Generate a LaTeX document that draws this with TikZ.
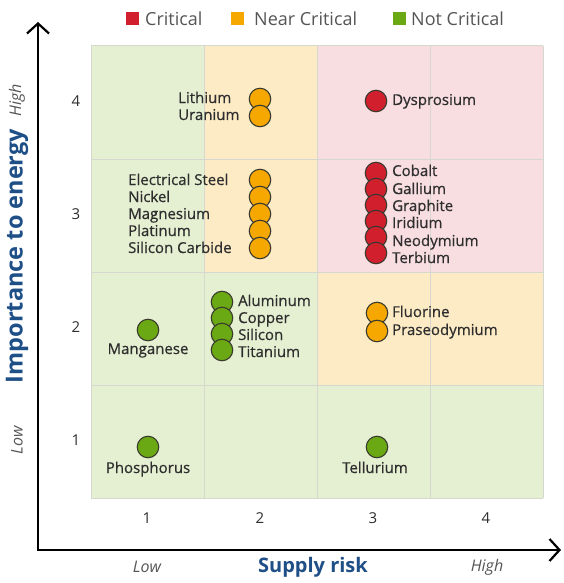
\documentclass[tikz,border=0pt]{standalone}
\usepackage{fontspec}
\setmainfont{Open Sans}
\newfontfamily\elemfont{Open Sans}[FakeBold=0.6]
\usetikzlibrary{arrows.meta}

\definecolor{critred}{HTML}{D21F2E}
\definecolor{nearorange}{HTML}{F6A800}
\definecolor{notgreen}{HTML}{6AA814}
\definecolor{cellgreen}{HTML}{E5F0D2}
\definecolor{cellorange}{HTML}{FDEBC5}
\definecolor{cellpink}{HTML}{F8DEE1}
\definecolor{gridgray}{HTML}{D6D8D0}
\definecolor{dotline}{HTML}{3A3A2E}
\definecolor{axisblue}{HTML}{1F4F87}
\definecolor{labelgray}{HTML}{2E2E2E}
\definecolor{softgray}{HTML}{555555}

\begin{document}
\begin{tikzpicture}[x=1pt,y=-1pt,
	dot/.style={circle, draw=dotline, line width=1.1pt, minimum size=21.5pt, inner sep=0pt},
	elem/.style={text=labelgray, font=\elemfont\fontsize{15}{17}\selectfont, inner sep=0pt, text height=11pt, text depth=3pt},
	tick/.style={text=labelgray, font=\fontsize{15}{17}\selectfont},
	hilo/.style={text=softgray, font=\fontsize{16}{18}\selectfont\itshape},
	axlabel/.style={text=axisblue, font=\fontsize{20}{22}\selectfont\bfseries},
	keybox/.style={minimum size=13pt, inner sep=0pt},
	keytext/.style={anchor=west, inner sep=0pt, text=softgray, font=\fontsize{18}{20}\selectfont}]
	
	\useasboundingbox (0,0) rectangle (564,583);
	
	% cells
	\fill[cellgreen] (91,46) rectangle (543,498);
	\fill[cellorange] (204,46) rectangle (317,272);
	\fill[cellpink] (317,46) rectangle (543,272);
	\fill[cellorange] (317,272) rectangle (543,385);
	\foreach \g in {91,204,317,430,543} {
		\draw[gridgray, line width=1pt] (\g,46) -- (\g,498);
	}
	\foreach \g in {46,159,272,385,498} {
		\draw[gridgray, line width=1pt] (91,\g) -- (543,\g);
	}
	
	% axes
	\coordinate (ytop) at (38,22);
	\coordinate (origin) at (38,550);
	\coordinate (xend) at (561,550);
	\draw[line width=2.2pt, line join=miter, {Straight Barb[length=10pt,width=22pt]}-{Straight Barb[length=10pt,width=22pt]}] (ytop) -- (origin) -- (xend);
	
	% legend
	\node[keybox, fill=critred] (keycrit) at (132.5,19) {};
	\node[keytext] (keycrittext) at (145,19) {Critical};
	\node[keybox, fill=nearorange] (keynear) at (237.5,19) {};
	\node[keytext] (keyneartext) at (254,19) {Near Critical};
	\node[keybox, fill=notgreen] (keynot) at (399.5,19) {};
	\node[keytext] (keynottext) at (411,19) {Not Critical};
	
	% ticks
	\node[tick] (x1) at (147,518) {1};
	\node[tick] (x2) at (260,518) {2};
	\node[tick] (x3) at (373,518) {3};
	\node[tick] (x4) at (486,518) {4};
	\node[tick] (y1) at (76,440) {1};
	\node[tick] (y2) at (76,327) {2};
	\node[tick] (y3) at (76,214) {3};
	\node[tick] (y4) at (76,101) {4};
	
	\node[hilo] (xlow) at (147,567) {Low};
	\node[axlabel] (xname) at (313,567) {Supply risk};
	\node[hilo] (xhigh) at (487,567) {High};
	\node[hilo, rotate=90] (ylow) at (17,440) {Low};
	\node[axlabel, rotate=90, font=\fontsize{23.5}{25}\selectfont\bfseries] (yname) at (17,256) {Importance to energy};
	\node[hilo, rotate=90] (yhigh) at (17,100) {High};
	
	% near critical
	\foreach \n/\y/\t in {li/99/Lithium, ur/116/Uranium} {
		\node[dot, fill=nearorange] (dot-\n) at (260,\y) {};
		\node[elem, anchor=west] (lab-\n) at (178,\y) {\t};
	}
	\foreach \n/\y/\t in {es/180/Electrical Steel, ni/197/Nickel, mg/214/Magnesium, pt/231/Platinum, sc/248/Silicon Carbide} {
		\node[dot, fill=nearorange] (dot-\n) at (260,\y) {};
		\node[elem, anchor=west] (lab-\n) at (128,\y+1) {\t};
	}
	\foreach \n/\y/\t in {fl/313/Fluorine, pr/331/Praseodymium} {
		\node[dot, fill=nearorange] (dot-\n) at (377,\y) {};
		\node[elem, anchor=west] (lab-\n) at (392,\y) {\t};
	}
	
	% critical
	\node[dot, fill=critred] (dot-dy) at (376,101) {};
	\node[elem, anchor=west] (lab-dy) at (392,101) {Dysprosium};
	\foreach \n/\y/\ly/\t in {co/173/172/Cobalt, ga/189/190/Gallium, gr/205/207/Graphite, ir/221/224/Iridium, nd/237/242/Neodymium, tb/253/259/Terbium} {
		\node[dot, fill=critred] (dot-\n) at (376,\y) {};
		\node[elem, anchor=west] (lab-\n) at (392,\ly) {\t};
	}
	
	% not critical
	\foreach \n/\y/\ly/\t in {al/302/302/Aluminum, cu/318/319/Copper, si/334/336/Silicon, ti/350/353/Titanium} {
		\node[dot, fill=notgreen] (dot-\n) at (222,\y) {};
		\node[elem, anchor=west] (lab-\n) at (238,\ly) {\t};
	}
	\node[dot, fill=notgreen] (dot-mn) at (148,330) {};
	\node[elem] (lab-mn) at (148,350) {Manganese};
	\node[dot, fill=notgreen] (dot-ph) at (148,447) {};
	\node[elem] (lab-ph) at (148,469) {Phosphorus};
	\node[dot, fill=notgreen] (dot-te) at (377,447) {};
	\node[elem] (lab-te) at (375,469) {Tellurium};
	
\end{tikzpicture}
\end{document}
